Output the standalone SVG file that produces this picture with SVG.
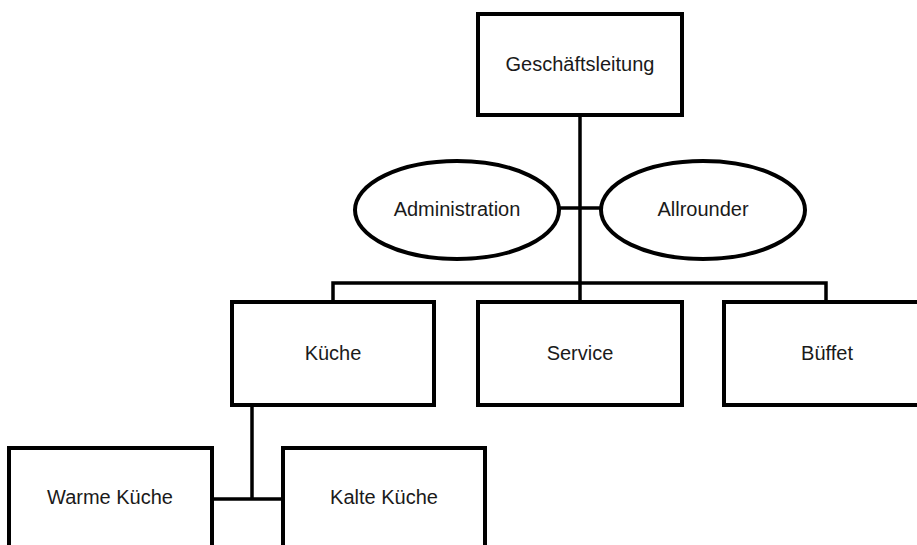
<svg xmlns="http://www.w3.org/2000/svg" width="917" height="545" viewBox="0 0 917 545">
<style>
.box{fill:#fff;stroke:#000;stroke-width:4}
.lbl{font-family:"Liberation Sans",Arial,sans-serif;font-size:20px;fill:#1a1a1a;text-anchor:middle;dominant-baseline:central}
.con{fill:none;stroke:#000;stroke-width:3.5}
</style>
<rect width="917" height="545" fill="#fff"/>
<g id="connectors">
<line class="con" x1="580" y1="115" x2="580" y2="302"/>
<line class="con" x1="558" y1="208" x2="602" y2="208"/>
<polyline class="con" points="333,302 333,283 826,283 826,302"/>
<polyline class="con" points="252,405 252,499"/>
<line class="con" x1="212" y1="499" x2="283" y2="499"/>
</g>
<g id="geschaeftsleitung"><rect class="box" x="478" y="14" width="204" height="101"/><text class="lbl" x="580" y="64">Geschäftsleitung</text></g>
<g id="administration"><ellipse class="box" cx="457" cy="210" rx="102" ry="49"/><text class="lbl" x="457" y="209">Administration</text></g>
<g id="allrounder"><ellipse class="box" cx="703" cy="210" rx="102" ry="49"/><text class="lbl" x="703" y="209">Allrounder</text></g>
<g id="kueche"><rect class="box" x="232" y="302" width="202" height="103"/><text class="lbl" x="333" y="353">Küche</text></g>
<g id="service"><rect class="box" x="478" y="302" width="204" height="103"/><text class="lbl" x="580" y="353">Service</text></g>
<g id="bueffet"><rect class="box" x="724" y="302" width="204" height="103"/><text class="lbl" x="827" y="353">Büffet</text></g>
<g id="warme-kueche"><rect class="box" x="9" y="448" width="203" height="103"/><text class="lbl" x="110" y="497">Warme Küche</text></g>
<g id="kalte-kueche"><rect class="box" x="283" y="448" width="202" height="103"/><text class="lbl" x="384" y="497">Kalte Küche</text></g>
</svg>
